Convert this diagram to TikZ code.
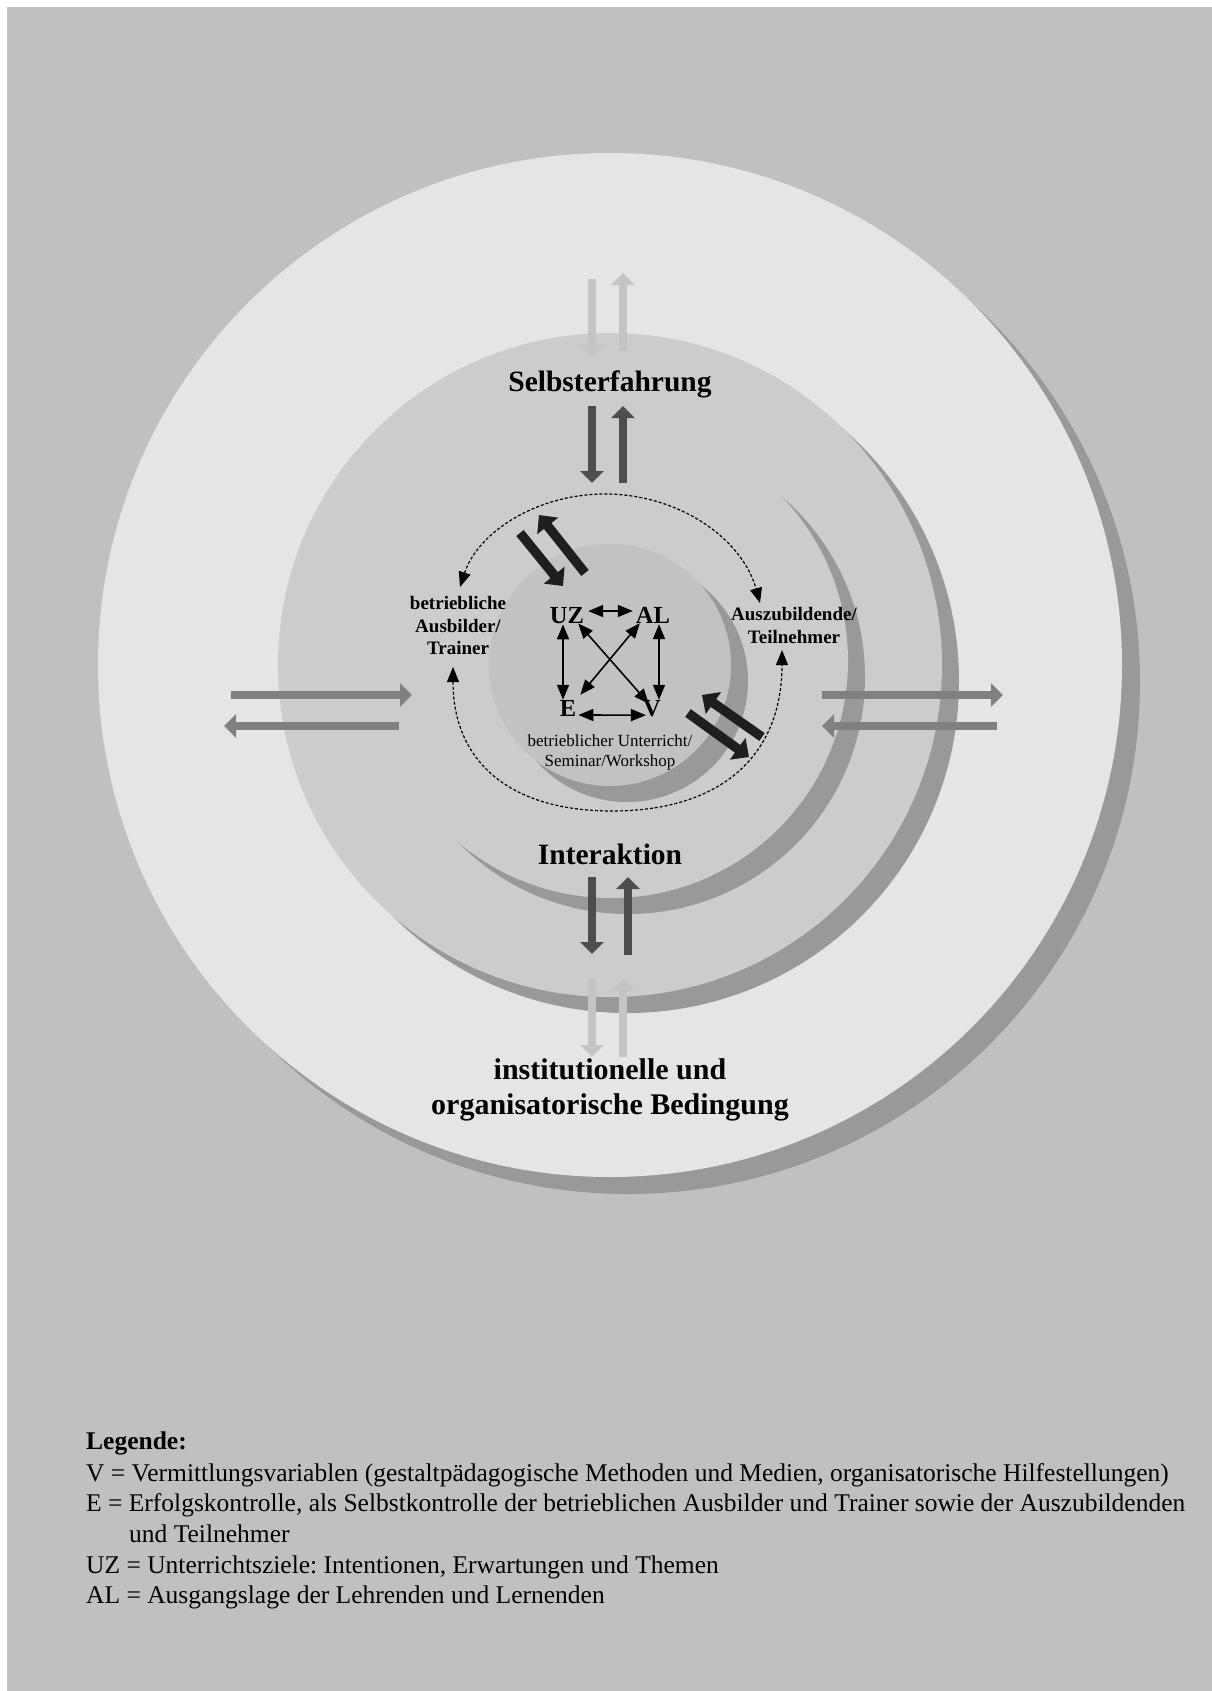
\documentclass[tikz,border=0pt]{standalone}
\usepackage{fontspec}
\setmainfont{Liberation Serif}
\usetikzlibrary{arrows.meta}
\definecolor{bgc}{HTML}{C0C0C0}
\definecolor{outerc}{HTML}{E5E5E5}
\definecolor{midc}{HTML}{CCCCCC}
\definecolor{innerc}{HTML}{C2C2C2}
\definecolor{shadowc}{HTML}{999999}
\definecolor{lightarr}{HTML}{C4C4C4}
\definecolor{darkarr}{HTML}{4D4D4D}
\definecolor{grayarr}{HTML}{808080}
\definecolor{blackarr}{HTML}{1E1E1E}
\tikzset{
  fatarrow/.style={line width=8.5pt, -{Triangle[length=12pt,width=23pt]}},
  lightarrow/.style={fatarrow, draw=lightarr},
  darkarrow/.style={fatarrow, draw=darkarr},
  grayarrow/.style={fatarrow, draw=grayarr},
  blackarrow/.style={line width=9.5pt, draw=blackarr, -{Triangle[length=14pt,width=26pt]}},
  thinlink/.style={line width=1.6pt, {Triangle[length=15pt,width=12pt]}-{Triangle[length=15pt,width=12pt]}},
  dashlink/.style={line width=1.2pt, dash pattern=on 3pt off 2pt, {Triangle[length=15pt,width=12pt]}-{Triangle[length=15pt,width=12pt]}},
  txt/.style={inner sep=0pt, text=black},
  bigbold/.style={txt, font={\fontsize{29.5}{35}\selectfont\bfseries}},
  midbold/.style={txt, font={\fontsize{19}{22.8}\selectfont\bfseries}},
  varbold/.style={txt, font={\fontsize{24.5}{28}\selectfont\bfseries}},
  smallreg/.style={txt, font={\fontsize{17}{20}\selectfont}},
  legtxt/.style={txt, anchor=base west, font={\fontsize{25.5}{30}\selectfont\frenchspacing}},
}
\begin{document}
\begin{tikzpicture}[x=1pt,y=1pt]
\useasboundingbox (0,0) rectangle (1212,-1691);
\fill[white] (0,0) rectangle (1212,-1691);
\fill[bgc] (7,-7) rectangle (1212,-1691);
% circles with shadows
\fill[shadowc] (628,-682) circle[radius=512pt];
\fill[outerc] (610,-665) circle[radius=512pt];
\fill[shadowc] (627,-681) circle[radius=332pt];
\fill[midc] (610,-665) circle[radius=332pt];
\fill[shadowc] (628,-677) circle[radius=237pt];
\fill[midc] (611,-661) circle[radius=237pt];
\fill[shadowc] (627,-681) circle[radius=121pt];
\fill[innerc] (610,-665) circle[radius=121pt];

% labels
\node[bigbold, anchor=base] (selbst) at (610,-391) {Selbsterfahrung};
\node[bigbold, anchor=base] (inter) at (610,-864) {Interaktion};
\node[bigbold, align=center, font={\fontsize{30}{35}\selectfont\bfseries}] (inst) at (610,-1090) {institutionelle und\\organisatorische Bedingung};
\node[midbold, align=center] (trainer) at (458,-625.5) {betriebliche\\Ausbilder/\\Trainer};
\node[midbold, align=center] (azubi) at (794,-625.3) {Auszubildende/\\Teilnehmer};
\node[smallreg, align=center] (unterricht) at (610,-752) {betrieblicher Unterricht/\\Seminar/Workshop};
\node[varbold, anchor=base] (UZ) at (567,-623) {UZ};
\node[varbold, anchor=base] (AL) at (653,-623) {AL};
\node[varbold, anchor=base] (E) at (568,-716) {E};
\node[varbold, anchor=base] (V) at (652,-716) {V};

% inner links
\draw[thinlink] ([xshift=4pt,yshift=4pt]UZ.east) -- ([xshift=-3pt,yshift=4pt]AL.west);
\draw[thinlink] ([xshift=-4pt,yshift=-1pt]UZ.south) -- ([xshift=-5pt]E.north);
\draw[thinlink] ([xshift=6pt,yshift=-1pt]AL.south) -- ([xshift=7pt]V.north);
\draw[thinlink] ([xshift=2pt,yshift=-7pt]E.east) -- ([xshift=3pt,yshift=-7pt]V.west);
\draw[thinlink] ([xshift=-6pt]UZ.south east) -- ([xshift=6pt,yshift=-4pt]V.north west);
\draw[thinlink] ([xshift=4pt]AL.south west) -- ([xshift=4pt,yshift=5pt]E.north east);

% dashed interaction loops
\coordinate (dTL) at (460,-587);
\coordinate (dTR) at (760,-603);
\coordinate (dTop) at (605,-494);
\coordinate (dBL) at (453,-667);
\coordinate (dBR) at (782,-650);
\coordinate (dBot) at (612,-811);
\draw[dashlink] (dTL) .. controls (478,-532) and (537,-494) .. (dTop) .. controls (678,-494) and (742,-538) .. (dTR);
\draw[dashlink] (dBL) .. controls (453,-761) and (509,-811) .. (dBot) .. controls (722,-811) and (782,-755) .. (dBR);

% vertical arrows top
\coordinate (lt1a) at (592,-279); \coordinate (lt1b) at (592,-357);
\coordinate (lt2a) at (623,-351); \coordinate (lt2b) at (623,-273);
\draw[lightarrow] (lt1a) -- (lt1b);
\draw[lightarrow] (lt2a) -- (lt2b);
\coordinate (dt1a) at (592,-406); \coordinate (dt1b) at (592,-483);
\coordinate (dt2a) at (623,-483); \coordinate (dt2b) at (623,-406);
\draw[darkarrow] (dt1a) -- (dt1b);
\draw[darkarrow] (dt2a) -- (dt2b);
% vertical arrows bottom
\coordinate (db1a) at (592,-877); \coordinate (db1b) at (592,-954);
\coordinate (db2a) at (628,-955); \coordinate (db2b) at (628,-877);
\draw[darkarrow] (db1a) -- (db1b);
\draw[darkarrow] (db2a) -- (db2b);
\coordinate (lb1a) at (592,-979); \coordinate (lb1b) at (592,-1057);
\coordinate (lb2a) at (623,-1057); \coordinate (lb2b) at (623,-979);
\draw[lightarrow] (lb1a) -- (lb1b);
\draw[lightarrow] (lb2a) -- (lb2b);
% horizontal arrows
\coordinate (hl1a) at (231,-695); \coordinate (hl1b) at (412,-695);
\coordinate (hl2a) at (399,-726); \coordinate (hl2b) at (224,-726);
\draw[grayarrow] (hl1a) -- (hl1b);
\draw[grayarrow] (hl2a) -- (hl2b);
\coordinate (hr1a) at (822,-695); \coordinate (hr1b) at (1003,-695);
\coordinate (hr2a) at (997,-726); \coordinate (hr2b) at (822,-726);
\draw[grayarrow] (hr1a) -- (hr1b);
\draw[grayarrow] (hr2a) -- (hr2b);
% diagonal black arrows
\coordinate (bu1a) at (520,-533); \coordinate (bu1b) at (563,-586);
\coordinate (bu2a) at (585,-573); \coordinate (bu2b) at (539,-515);
\draw[blackarrow] (bu1a) -- (bu1b);
\draw[blackarrow] (bu2a) -- (bu2b);
\coordinate (bd1a) at (762,-737); \coordinate (bd1b) at (702,-695);
\coordinate (bd2a) at (688,-713); \coordinate (bd2b) at (749,-757);
\draw[blackarrow] (bd1a) -- (bd1b);
\draw[blackarrow] (bd2a) -- (bd2b);

% legend
\node[legtxt, font={\fontsize{25.5}{30}\selectfont\bfseries}] (leg0) at (86,-1449) {Legende:};
\node[legtxt] (leg1) at (86,-1481) {V = Vermittlungsvariablen (gestaltpädagogische Methoden und Medien, organisatorische Hilfestellungen)};
\node[legtxt] (leg2) at (86,-1511) {E = Erfolgskontrolle, als Selbstkontrolle der betrieblichen Ausbilder und Trainer sowie der Auszubildenden};
\node[legtxt] (leg3) at (129,-1542) {und Teilnehmer};
\node[legtxt] (leg4) at (86,-1573) {UZ = Unterrichtsziele: Intentionen, Erwartungen und Themen};
\node[legtxt] (leg5) at (86,-1603) {AL = Ausgangslage der Lehrenden und Lernenden};
\end{tikzpicture}
\end{document}
